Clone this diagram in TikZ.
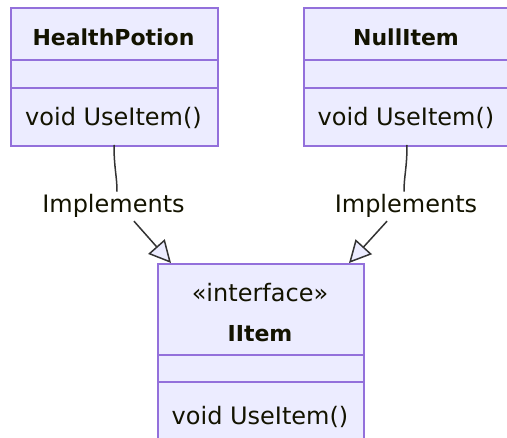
\documentclass[tikz,border=0pt]{standalone}
\usepackage{fontspec}
\setmainfont{DejaVu Sans}
\usetikzlibrary{arrows.meta}
\definecolor{umlfill}{HTML}{ECECFF}
\definecolor{umlborder}{HTML}{9370DB}
\definecolor{umltext}{HTML}{131300}
\definecolor{umledge}{HTML}{333333}
\begin{document}
\begin{tikzpicture}[x=1pt,y=-1pt,
  cls/.style={draw=umlborder, fill=umlfill, line width=1.6pt, inner sep=0pt,
    anchor=north west, minimum width=206pt},
  divider/.style={draw=umlborder, line width=1.6pt},
  title/.style={text=umltext, font=\fontsize{22}{26}\selectfont\bfseries,
    anchor=base, inner sep=0pt},
  member/.style={text=umltext, font=\fontsize{24}{28}\selectfont,
    anchor=base, inner sep=0pt},
  edgelabel/.style={text=umltext, font=\fontsize{24}{28}\selectfont,
    anchor=base, inner sep=3pt},
  link/.style={draw=umledge, line width=1.5pt},
  realize/.style={link, -{Triangle[open, length=22pt, width=22pt, fill=umlfill]}}]

\useasboundingbox (0,0) rectangle (507,438);

% class HealthPotion
\node[cls, minimum width=207pt, minimum height=138pt] (hp) at (10,7) {};
\draw[divider] (10,60) -- (217,60);
\draw[divider] (10,88) -- (217,88);
\node[title]  (hpname) at (113.5,46)    {HealthPotion};
\node[member] (hpop)   at (113.5,125.5) {void UseItem()};

% class NullItem
\node[cls, minimum height=138pt] (ni) at (303,7) {};
\draw[divider] (303,60) -- (509,60);
\draw[divider] (303,88) -- (509,88);
\node[title]  (niname) at (406,46)    {NullItem};
\node[member] (niop)   at (406,125.5) {void UseItem()};

% interface IItem
\node[cls, minimum height=190pt] (ii) at (157,263) {};
\draw[divider] (157,355) -- (363,355);
\draw[divider] (157,382) -- (363,382);
\node[member] (iistereo) at (260,301.5) {«interface»};
\node[title]  (iiname)   at (260,341.5) {IItem};
\node[member] (iiop)     at (260,425)   {void UseItem()};

% realization edges
\coordinate (hpout) at (114,145);
\coordinate (niout) at (407,145);
\coordinate (hptip) at (171,263);
\coordinate (nitip) at (349,263);
\node[edgelabel] (lblL) at (113.5,213) {Implements};
\node[edgelabel] (lblR) at (406,213)   {Implements};

\draw[link] (hpout) .. controls (114,168) and (117,176) .. ([xshift=3.5pt]lblL.north);
\draw[realize] ([xshift=20.5pt]lblL.south) -- (hptip);
\draw[link] (niout) .. controls (407,168) and (404,176) .. ([xshift=-2pt]lblR.north);
\draw[realize] ([xshift=-19pt]lblR.south) -- (nitip);
\end{tikzpicture}
\end{document}
